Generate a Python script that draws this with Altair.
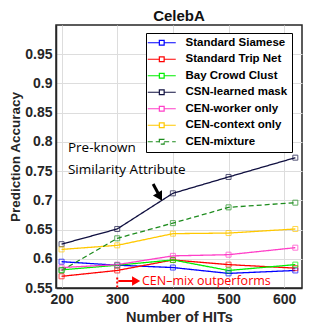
import altair as alt
import pandas as pd

hits = [200, 300, 400, 500, 620]
series = ["Standard Siamese", "Standard Trip Net", "Bay Crowd Clust", "CSN-learned mask",
          "CEN-worker only", "CEN-context only", "CEN-mixture"]
colors = ["#0000ff", "#ff0000", "#00ee00", "#101040", "#ff3fc8", "#ffc800", "#1e8c1e"]
dashes = [[1, 0], [1, 0], [1, 0], [1, 0], [1, 0], [1, 0], [5, 3]]
vals = {
    "Standard Siamese": [0.595, 0.589, 0.585, 0.575, 0.580],
    "Standard Trip Net": [0.570, 0.580, 0.598, 0.590, 0.584],
    "Bay Crowd Clust": [0.581, 0.589, 0.598, 0.580, 0.590],
    "CSN-learned mask": [0.625, 0.651, 0.712, 0.740, 0.773],
    "CEN-worker only": [0.585, 0.590, 0.605, 0.607, 0.619],
    "CEN-context only": [0.616, 0.623, 0.643, 0.644, 0.651],
    "CEN-mixture": [0.580, 0.635, 0.661, 0.688, 0.696],
}
x_ticks = [200, 300, 400, 500, 600]
y_ticks = [0.55, 0.6, 0.65, 0.7, 0.75, 0.8, 0.85, 0.9, 0.95]

rows = []
for s in series:
    for h, v in zip(hits, vals[s]):
        rows.append({"series": s, "hits": h, "acc": v})
df = pd.DataFrame(rows)

xs = alt.Scale(domain=[190, 632], nice=False, zero=False)
ys = alt.Scale(domain=[0.55, 1.0], nice=False, zero=False)
col = alt.Scale(domain=series, range=colors)
dsh = alt.Scale(domain=series, range=dashes)

xaxis = alt.Axis(values=x_ticks, title="Number of HITs", format="d", labelOverlap=False)
yaxis = alt.Axis(values=y_ticks, title="Prediction Accuracy", format=".2~f",
                 labelOverlap=False, tickCount=9)
X = alt.X("hits:Q", scale=xs, axis=xaxis)
Y = alt.Y("acc:Q", scale=ys, axis=yaxis)

legend = alt.Legend(title=None, orient="none", legendX=90, legendY=8,
                    strokeColor="black", fillColor="white", padding=4,
                    labelFontSize=11.5, labelFontWeight="bold", labelFont="Liberation Sans",
                    labelColor="black",
                    symbolType="M-3.5,0H-0.6M0.6,0H3.5M-0.6,-0.6H0.6V0.6H-0.6Z",
                    symbolSize=64, symbolStrokeWidth=1.2, symbolFillColor="white",
                    symbolOffset=6, labelOffset=18, rowPadding=3.5)

lines = alt.Chart(df).mark_line(strokeWidth=1.3).encode(
    x=X, y=Y,
    color=alt.Color("series:N", scale=col, legend=legend, sort=series),
    strokeDash=alt.StrokeDash("series:N", scale=dsh, legend=legend, sort=series),
)
pts = alt.Chart(df).mark_point(shape="square", filled=False, size=25, strokeWidth=1).encode(
    x=X, y=Y, color=alt.Color("series:N", scale=col, legend=None))

# annotations
ann_text = pd.DataFrame({"hits": [211.5, 211.5], "acc": [0.789, 0.752],
                         "t": ["Pre-known", "Similarity Attribute"]})
t1 = alt.Chart(ann_text).mark_text(align="left", baseline="middle", font="Open Sans",
                                   fontSize=13.5, color="black").encode(x=X, y=Y, text="t:N")

black_arrow = pd.DataFrame({"hits": [364.5], "acc": [0.728], "hits2": [373.5], "acc2": [0.712]})
ba = alt.Chart(black_arrow).mark_rule(strokeWidth=3, color="black").encode(
    x=X, y=Y, x2="hits2:Q", y2="acc2:Q")
bhead = alt.Chart(pd.DataFrame({"hits": [376.4], "acc": [0.706]})).mark_point(
    shape="triangle-up", filled=True, color="black", size=110, angle=150, opacity=1).encode(
    x=X, y=Y)

red_vline = alt.Chart(pd.DataFrame({"hits": [300], "acc": [0.568], "acc2": [0.55]})).mark_rule(
    color="red", strokeWidth=2, strokeDash=[2, 2]).encode(x=X, y=Y, y2="acc2:Q")
red_arrow = alt.Chart(pd.DataFrame({"hits": [302], "acc": [0.562], "hits2": [330]})).mark_rule(
    color="red", strokeWidth=2).encode(x=X, y=Y, x2="hits2:Q")
rhead = alt.Chart(pd.DataFrame({"hits": [334], "acc": [0.562]})).mark_point(
    shape="triangle-right", filled=True, color="red", size=90, opacity=1).encode(x=X, y=Y)
red_text = alt.Chart(pd.DataFrame({"hits": [344.5], "acc": [0.562], "t": ["CEN–mix outperforms"]})).mark_text(
    align="left", baseline="middle", font="Open Sans", fontSize=12.5, color="red").encode(
    x=X, y=Y, text="t:N")

chart = alt.layer(lines, pts, t1, ba, bhead, red_vline, red_arrow, rhead, red_text).properties(
    width=246, height=263,
    title=alt.TitleParams("CelebA", fontSize=15, fontWeight="bold", font="Liberation Sans",
                          color="#111111", offset=1),
    autosize=alt.AutoSizeParams(type="none"),
    padding={"left": 48, "top": 17, "right": 20, "bottom": 40},
).configure_view(stroke="#262626", strokeWidth=1.5).configure_axis(
    labelFont="Liberation Sans", labelFontSize=14, labelFontWeight="bold", labelColor="#262626",
    titleFont="Liberation Sans", titleFontSize=14.5, titleFontWeight="bold", titleColor="#262626",
    ticks=False, domainColor="#262626", domainWidth=1.5, gridColor="#dddddd", gridWidth=1,
    labelPadding=4, labelOverlap=False,
).configure_axisY(titlePadding=2, titleFontSize=13.5).configure_axisX(titlePadding=4)

chart.save("out.html", embed_options={"renderer": "svg", "actions": False})
